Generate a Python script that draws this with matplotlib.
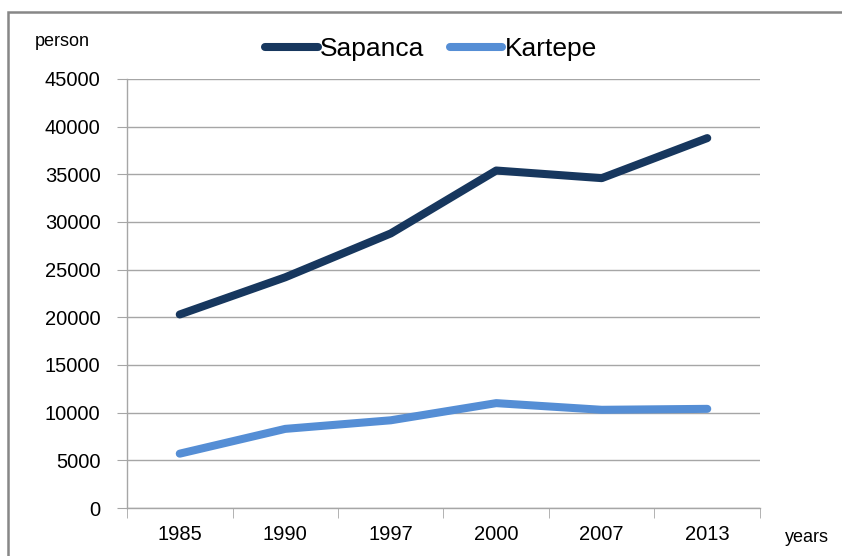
import matplotlib
matplotlib.use("Agg")
import matplotlib.pyplot as plt
from matplotlib.patches import Rectangle
import numpy as np

years = ["1985", "1990", "1997", "2000", "2007", "2013"]
sapanca = [20300, 24200, 28800, 35400, 34600, 38800]
kartepe = [5700, 8300, 9200, 11000, 10300, 10400]
yticks = list(range(0, 45001, 5000))

plt.rcParams['font.family'] = ['Liberation Sans', 'DejaVu Sans']

W, H = 842, 556
fig = plt.figure(figsize=(W / 100, H / 100), dpi=100)
fig.patch.set_facecolor("white")

# outer border (top and left visible)
fig.patches.append(Rectangle((8 / W, -0.05), 1.2, 1 - 12 / H + 0.05,
                             transform=fig.transFigure, fill=False,
                             edgecolor="#878787", linewidth=1.8))

ax = fig.add_axes([127 / W, 1 - 508 / H, (760 - 127) / W, (508 - 79) / H])
x = np.arange(len(years))
grid_c = "#A6A6A6"

l1, = ax.plot(x, sapanca, color="#17375E", linewidth=5.8,
              solid_capstyle="round", solid_joinstyle="round", label="Sapanca", zorder=3)
l2, = ax.plot(x, kartepe, color="#558ED5", linewidth=5.8,
              solid_capstyle="round", solid_joinstyle="round", label="Kartepe", zorder=3)

ax.set_xlim(-0.5, len(years) - 0.5)
ax.set_ylim(0, 45000)
ax.set_yticks(yticks)
ax.set_yticklabels([str(v) for v in yticks])
ax.yaxis.grid(True, color=grid_c, linewidth=1.0)
ax.set_axisbelow(True)

ax.set_xticks(x)
ax.set_xticklabels(years)
ax.set_xticks(np.arange(-0.5, len(years), 1.0), minor=True)
ax.tick_params(axis="x", which="major", length=0, pad=12, labelsize=14.5)
ax.tick_params(axis="x", which="minor", length=7, color=grid_c, direction="out")
ax.tick_params(axis="y", length=7, color=grid_c, direction="out", pad=12, labelsize=14.5)

for s in ["top", "right"]:
    ax.spines[s].set_visible(False)
for s in ["left", "bottom"]:
    ax.spines[s].set_color(grid_c)
    ax.spines[s].set_linewidth(1.0)

fig.text(35 / W, 1 - 42 / H, "person", fontsize=13, ha="left", va="center")
fig.text(785 / W, 1 - 538 / H, "years", fontsize=13, ha="left", va="center")

fig.legend(handles=[l1, l2], loc="center", bbox_to_anchor=(431 / W, 1 - 49 / H),
           ncol=2, frameon=False, fontsize=19, handlelength=2.0,
           handletextpad=0.1, columnspacing=0.95, borderpad=0, borderaxespad=0)

fig.savefig("out.png", dpi=100, facecolor="white")
